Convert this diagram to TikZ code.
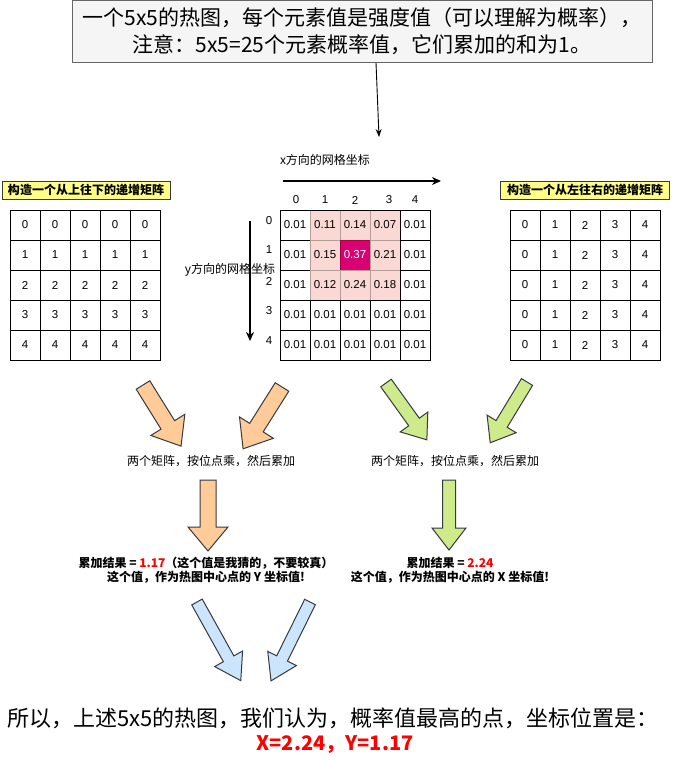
\documentclass[tikz,border=0pt]{standalone}
\usepackage{fontspec}
\setmainfont{Liberation Sans}
\newfontfamily\cjk{Noto Sans CJK SC}
\usepackage{tikz}
\usetikzlibrary{arrows.meta,positioning}
\definecolor{notegrey}{HTML}{F5F5F5}
\definecolor{noteedge}{HTML}{666666}
\definecolor{tagyellow}{HTML}{FFFF88}
\definecolor{darkedge}{HTML}{36393D}
\definecolor{hotpink}{HTML}{FAD9D5}
\definecolor{hotedge}{HTML}{B89C98}
\definecolor{peak}{HTML}{D80073}
\definecolor{peakedge}{HTML}{A50040}
\definecolor{sumorange}{HTML}{FFCC99}
\definecolor{sumgreen}{HTML}{CDEB8B}
\definecolor{sumblue}{HTML}{CCE5FF}
\definecolor{resred}{HTML}{FF0000}

% fat arrow: length / shaft width / head width / head length
\tikzset{
  pics/blockarrow/.style n args={4}{code={
    \path[pic actions] (0,{-#2/2}) -- ({#1-#4},{-#2/2}) -- ({#1-#4},{-#3/2})
      -- (#1,0) -- ({#1-#4},{#3/2}) -- ({#1-#4},{#2/2}) -- (0,{#2/2}) -- cycle;
  }}}

\begin{document}
\begin{tikzpicture}[x=1pt, y=-1pt,
  every node/.style={inner sep=0pt},
  cell/.style={draw, minimum size=30pt, font=\fontsize{11.5}{13}\selectfont},
  hotcell/.style={cell, fill=hotpink, draw=hotedge},
  peakcell/.style={cell, fill=peak, draw=peakedge, text=white},
  tag/.style={draw=darkedge, fill=tagyellow, minimum height=18pt,
    font=\cjk\bfseries\fontsize{12}{13}\selectfont},
  axis/.style={line width=1.6pt, -{Stealth[length=9pt,width=8pt]}},
  note/.style={font=\cjk\fontsize{12}{14}\selectfont},
  result/.style={font=\cjk\bfseries\fontsize{12}{14}\selectfont, align=center},
  fat/.style={draw=darkedge, line width=1pt}]
\useasboundingbox (0,0) rectangle (674,762);

% question on top
\node[draw=noteedge, fill=notegrey, minimum width=580pt, minimum height=62pt,
  align=center, font=\cjk\fontsize{21}{27}\selectfont] (intro) at (362,31.5)
  {一个5x5的热图，每个元素值是强度值（可以理解为概率），\\注意：5x5=25个元素概率值，它们累加的和为1。};
\coordinate (introend) at (379,137);
\draw[line width=0.9pt, -{Stealth[length=8pt,width=6pt]}] ([xshift=14pt]intro.south) -- (introend);

% heat map
\foreach \vals [count=\r from 0] in {{0.01,0.11,0.14,0.07,0.01},{0.01,0.15,0.37,0.21,0.01},
    {0.01,0.12,0.24,0.18,0.01},{0.01,0.01,0.01,0.01,0.01},{0.01,0.01,0.01,0.01,0.01}}
  \foreach \v [count=\c from 0] in \vals {
    \pgfmathtruncatemacro\hot{and(\r<3, and(\c>0, \c<4))}
    \def\cs{cell}
    \ifnum\hot=1 \def\cs{hotcell}\fi
    \ifnum\r=1 \ifnum\c=2 \def\cs{peakcell}\fi\fi
    \node[\cs] (h-\r-\c) at ({295+30*\c},{225+30*\r}) {\v};
  }
\draw (h-0-0.north west) rectangle (h-4-4.south east);

\foreach \x [count=\c from 0] in {296,325,355,389,415}
  \node[font=\fontsize{11.5}{13}\selectfont] (colx-\c) at (\x,200) {\c};
\foreach \y [count=\r from 0] in {221,250,281,311,341}
  \node[font=\fontsize{11.5}{13}\selectfont] (rowy-\r) at (269,\y) {\r};

\coordinate (xs) at (283,181);
\coordinate (xe) at (441,181);
\draw[axis] (xs) -- (xe);
\node[note] (xlab) at (325,160) {x方向的网格坐标};
\coordinate (ys) at (250,221);
\coordinate (ye) at (250,341);
\draw[axis] (ys) -- (ye);
\node[note] (ylab) at (230,270) {y方向的网格坐标};

% index matrices
\node[tag, minimum width=168pt] (ltag) at (86,190) {构造一个从上往下的递增矩阵};
\node[tag, minimum width=169pt] (rtag) at (585,190) {构造一个从左往右的递增矩阵};
\foreach \r in {0,...,4}
  \foreach \c in {0,...,4} {
    \node[cell] (l-\r-\c) at ({25+30*\c},{225+30*\r}) {\r};
    \node[cell] (g-\r-\c) at ({525+30*\c},{225+30*\r}) {\c};
  }

% y branch
\pic[fat, fill=sumorange, rotate=-58.1] at (143,385) {blockarrow={72}{16}{40}{25}};
\pic[fat, fill=sumorange, rotate=-122.2] at (282,387) {blockarrow={73}{16}{40}{25}};
\node[note] (ymul) at (211,461) {两个矩阵，按位点乘，然后累加};
\pic[fat, fill=sumorange, rotate=-90] at (208,480) {blockarrow={71}{16}{40}{24}};
\node[result] (ysum) at (206,570)
  {累加结果 = \textcolor{resred}{1.17}（这个值是我猜的，不要较真）\\这个值，作为热图中心点的 Y 坐标值!};

% x branch
\pic[fat, fill=sumgreen, rotate=-54.3] at (386,383) {blockarrow={70}{13}{34}{22}};
\pic[fat, fill=sumgreen, rotate=-121.2] at (527,382) {blockarrow={71}{13}{34}{22}};
\node[note] (xmul) at (455,461) {两个矩阵，按位点乘，然后累加};
\pic[fat, fill=sumgreen, rotate=-90] at (449,480) {blockarrow={70}{13}{34}{22}};
\node[result] (xsum) at (450,570)
  {累加结果 = \textcolor{resred}{2.24}\\这个值，作为热图中心点的 X 坐标值!};

% conclusion
\pic[fat, fill=sumblue, rotate=-60.9] at (197,602) {blockarrow={90}{12}{32}{25}};
\pic[fat, fill=sumblue, rotate=-116.3] at (310,602) {blockarrow={88}{12}{32}{25}};
\node[font=\cjk\fontsize{22}{26}\selectfont] (concl) at (333,718)
  {所以，上述5x5的热图，我们认为，概率值最高的点，坐标位置是：};
\node[font=\cjk\bfseries\fontsize{20}{24}\selectfont, text=resred] (answer) at (335,745)
  {X=2.24，Y=1.17};
\end{tikzpicture}
\end{document}
